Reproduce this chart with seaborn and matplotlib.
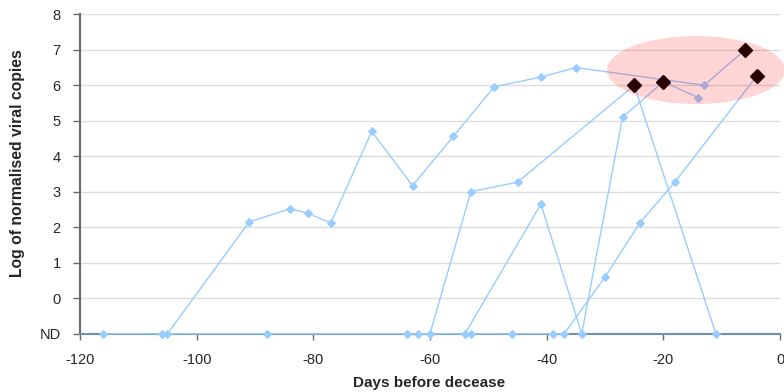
import matplotlib
matplotlib.use('Agg')
import matplotlib.pyplot as plt
import numpy as np
import pandas as pd
import seaborn as sns
from matplotlib.patches import Ellipse

ND = -1  # not detected

# days before decease / log of normalised viral copies, one list pair per patient
s1_days = [-116, -105, -91, -84, -81, -77, -70, -63, -56, -49, -41, -35, -13, -6]
s1_vals = [ND, ND, 2.15, 2.52, 2.4, 2.12, 4.7, 3.17, 4.56, 5.96, 6.23, 6.5, 6.0, 7.0]
s2_days = [-106, -88, -64, -60, -53, -45, -25, -11]
s2_vals = [ND, ND, ND, ND, 3.0, 3.27, 6.0, ND]
s3_days = [-62, -54, -41, -34, -27, -20, -14]
s3_vals = [ND, ND, 2.65, ND, 5.1, 6.1, 5.65]
s4_days = [-53, -46, -39, -37, -30, -24, -18, -4]
s4_vals = [ND, ND, ND, ND, 0.6, 2.13, 3.28, 6.26]

# highlighted samples
hi_days = [-25, -20, -6, -4]
hi_vals = [6.0, 6.1, 7.0, 6.26]

y_ticks = [-1, 0, 1, 2, 3, 4, 5, 6, 7, 8]
y_labels = ['ND', '0', '1', '2', '3', '4', '5', '6', '7', '8']
x_ticks = [-120, -100, -80, -60, -40, -20, 0]

frames = []
for name, d, v in [('s1', s1_days, s1_vals), ('s2', s2_days, s2_vals),
                   ('s3', s3_days, s3_vals), ('s4', s4_days, s4_vals)]:
    frames.append(pd.DataFrame({'day': d, 'val': v, 'patient': name}))
df = pd.concat(frames, ignore_index=True)
hi = pd.DataFrame({'day': hi_days, 'val': hi_vals})

sns.set_theme(style='white')
plt.rcParams['font.family'] = ['Liberation Sans', 'DejaVu Sans']
plt.rcParams['axes.unicode_minus'] = False

fig = plt.figure(figsize=(7.84, 3.92), dpi=100)
ax = fig.add_axes([0.102, 0.1487, 0.893, 0.8148])

ax.set_xlim(-120, 0)
ax.set_ylim(-1, 8)
ax.set_yticks(y_ticks)
ax.set_yticklabels(y_labels)
ax.set_xticks(x_ticks)
ax.yaxis.grid(True, color='#DCDCDC', lw=1)
ax.xaxis.grid(False)
ax.set_axisbelow(True)

sns.lineplot(data=df, x='day', y='val', units='patient', estimator=None, sort=False,
             color='#99CCFF', lw=1, marker='D', ms=3.6, mec='#99CCFF',
             ax=ax, zorder=3, clip_on=False)
ax.plot(hi['day'], hi['val'], ls='none', marker='D', ms=7.5, color='black', zorder=4)

# pink highlight area
ax.add_patch(Ellipse((-14.4, 6.43), 30.5, 1.92, facecolor='red', alpha=0.165,
                     edgecolor='none', zorder=5, clip_on=False))

for s in ['top', 'right']:
    ax.spines[s].set_visible(False)
ax.spines['left'].set_color('#6A6A6A')
ax.spines['left'].set_linewidth(1.5)
ax.spines['bottom'].set_color('#6F8FB5')
ax.spines['bottom'].set_linewidth(1.5)
ax.tick_params(axis='both', which='major', direction='out', length=5, width=1,
               color='#6A6A6A', labelsize=10.5, bottom=True, left=True)
ax.tick_params(axis='y', pad=9)
ax.tick_params(axis='x', length=4, pad=10)

ax.set_xlabel('')
ax.set_ylabel('')
fig.text(0.547, 0.022, 'Days before decease', ha='center', va='center',
         fontsize=11, fontweight='bold')
fig.text(0.022, 0.584, 'Log of normalised viral copies', ha='center', va='center',
         rotation=90, fontsize=11.3, fontweight='bold')

fig.savefig('out.png', dpi=100)
